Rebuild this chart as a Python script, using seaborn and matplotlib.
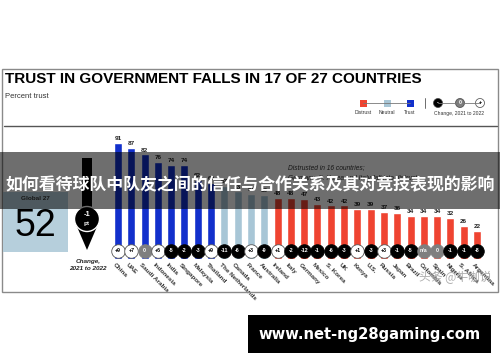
import numpy as np
import pandas as pd
import matplotlib
matplotlib.use("Agg")
import matplotlib.pyplot as plt
import seaborn as sns
from matplotlib.patches import Rectangle, Circle, Polygon
from matplotlib.lines import Line2D
from matplotlib.transforms import Affine2D

# Dados
countries = ["China", "UAE", "Saudi Arabia", "Indonesia", "India", "Singapore",
             "Malaysia", "Thailand", "The Netherlands", "Canada", "France",
             "Australia", "Ireland", "Italy", "Germany", "Mexico", "S. Korea",
             "UK", "Kenya", "U.S.", "Russia", "Japan", "Brazil", "Colombia",
             "Spain", "Nigeria", "S. Africa", "Argentina"]
trust = [91, 87, 82, 76, 74, 74, 62, 60, 57, 53, 51, 50, 48, 48, 47, 43, 42,
         42, 39, 39, 37, 36, 34, 34, 34, 32, 26, 22]
change = ["+9", "+7", "0", "+6", "-5", "-2", "-3", "+9", "-11", "-6", "+3", "-9",
          "+1", "-2", "-12", "-1", "-6", "-3", "+1", "-3", "+3", "-1", "-5",
          "n/a", "0", "-1", "-1", "-8"]
global_trust = 52
global_change = "-1"

title = "TRUST IN GOVERNMENT FALLS IN 17 OF 27 COUNTRIES"
banner = "如何看待球队中队友之间的信任与合作关系及其对竞技表现的影响"
site = "www.net-ng28gaming.com"

colors = {"Trust": "#1230cc", "Neutral": "#a8c6d6", "Distrust": "#ef4431"}

def level(v):
    if v >= 60:
        return "Trust"
    if v >= 50:
        return "Neutral"
    return "Distrust"

df = pd.DataFrame({"country": countries, "trust": trust, "change": change})
df["level"] = df["trust"].apply(level)

sns.set_style("white")
plt.rcParams["font.family"] = ["Liberation Sans", "Noto Sans CJK SC", "DejaVu Sans"]

W, H = 500, 362
fig = plt.figure(figsize=(5, 3.62), dpi=100)
px = Affine2D().scale(1 / W, -1 / H).translate(0, 1) + fig.transFigure

# Eixo das barras (pixels -> fração da figura)
ax = fig.add_axes([111.35 / W, 1 - 259 / H, 372.3 / W, 127.5 / H])
sns.barplot(data=df, x="country", y="trust", hue="level", order=countries,
            palette=colors, dodge=False, width=0.6, legend=False, ax=ax,
            saturation=1)
ax.set_xlim(-0.5, len(countries) - 0.5)
ax.set_ylim(0, 100)
ax.axis("off")

for i, v in enumerate(trust):
    ax.text(i, v + 1.5, str(v), ha="center", va="bottom", fontsize=4.6,
            fontweight="bold", color="#222222")

for i, c in enumerate(change):
    if c in ("0", "n/a"):
        fc, tc, ec = "#7f7f7f", "white", "#7f7f7f"
    elif c.startswith("-"):
        fc, tc, ec = "black", "white", "black"
    else:
        fc, tc, ec = "white", "black", "#555555"
    ax.scatter(i, 6.3, s=95, color=fc, edgecolor=ec, linewidth=0.6, zorder=5)
    ax.text(i, 6.3, c, ha="center", va="center", fontsize=3.8,
            fontweight="bold", color=tc, zorder=6)

for i, name in enumerate(countries):
    ax.text(i - 0.2, -2.5, name, rotation=-45, rotation_mode="anchor",
            ha="left", va="top", fontsize=4.6, fontweight="bold",
            color="#333333")

# Moldura e cabeçalho
fig.patches.append(Rectangle((2, 69), 496, 223, transform=px, fill=False,
                             edgecolor="#8a8a8a", linewidth=1))
fig.text(5, 79, title, transform=px, fontsize=11, fontweight="bold",
         va="center", ha="left", color="black")
fig.text(5, 96, "Percent trust", transform=px, fontsize=5.5, va="center",
         color="#333333")
fig.lines.append(Line2D([4, 497], [126, 126], transform=px, color="#555555",
                        linewidth=1))

# Legenda
fig.lines.append(Line2D([363, 410], [103, 103], transform=px, color="#777777",
                        linewidth=0.6))
for x, lab in zip([363, 387, 410], ["Distrust", "Neutral", "Trust"]):
    fig.patches.append(Rectangle((x - 3.5, 99.5), 7, 7, transform=px,
                                 facecolor=colors[lab], edgecolor="none"))
    fig.text(x, 113, lab, transform=px, fontsize=3.6, ha="center",
             va="center", color="#333333")
fig.lines.append(Line2D([425, 425], [98, 108], transform=px, color="#555555",
                        linewidth=0.6))
fig.lines.append(Line2D([438, 480], [103, 103], transform=px, color="#777777",
                        linewidth=0.6))
for x, fc, sym, tc in [(438, "black", "-", "white"), (460, "#7f7f7f", "0", "white"),
                       (480, "white", "+", "black")]:
    fig.patches.append(Circle((x, 103), 4.5, transform=px, facecolor=fc,
                              edgecolor="#444444", linewidth=0.5))
    fig.text(x, 103, sym, transform=px, fontsize=3.8, ha="center", va="center",
             color=tc, fontweight="bold")
fig.text(459, 113, "Change, 2021 to 2022", transform=px, fontsize=3.6,
         ha="center", va="center", color="#333333")

# Caixa Global 27 e seta
fig.patches.append(Rectangle((3, 192), 65, 60, transform=px,
                             facecolor="#b6cfdc", edgecolor="none"))
fig.text(35, 199, "Global 27", transform=px, fontsize=4.6, ha="center",
         va="center", fontweight="bold", color="#333333")
fig.text(35, 226, str(global_trust), transform=px, fontsize=27, ha="center",
         va="center", color="black")
fig.patches.append(Polygon([(82, 158), (92, 158), (92, 222), (99, 222),
                            (87, 250), (75, 222), (82, 222)], closed=True,
                           transform=px, facecolor="black", edgecolor="none"))
fig.patches.append(Circle((87, 219), 12.5, transform=px, facecolor="black",
                          edgecolor="white", linewidth=1))
fig.text(87, 215, global_change, transform=px, fontsize=5.5, ha="center",
         va="center", color="white", fontweight="bold")
fig.text(87, 224, "pt", transform=px, fontsize=4.6, ha="center", va="center",
         color="white", fontweight="bold")
fig.text(88, 262, "Change,", transform=px, fontsize=4.6, ha="center",
         va="center", fontweight="bold", fontstyle="italic", color="#222222")
fig.text(88, 269, "2021 to 2022", transform=px, fontsize=4.6, ha="center",
         va="center", fontweight="bold", fontstyle="italic", color="#222222")

fig.text(288, 168, "Distrusted in 16 countries;", transform=px, fontsize=4.8,
         fontstyle="italic", va="center", color="#333333")
fig.text(288, 178, "Germany, S. Korea and Italy fall into distrust",
         transform=px, fontsize=4.8, fontstyle="italic", va="center",
         color="#333333")

# Faixa escura com o título em chinês
banner_box = Rectangle((0, 152), 500, 57, transform=px, facecolor="black",
                       alpha=0.57, edgecolor="none", zorder=10)
fig.patches.append(banner_box)
fig.text(250, 185, banner, transform=px, fontsize=12.2, ha="center",
         va="center", color="white", fontweight="bold",
         family=["Noto Sans CJK SC", "DejaVu Sans"], zorder=11)

# Marca d'água
fig.text(455, 277, "头条 @牛咖说", transform=px, fontsize=8.5, ha="center",
         va="center", color="#9a9a9a", alpha=0.8,
         family=["Noto Sans CJK SC", "DejaVu Sans"], zorder=11)

# Caixa preta com o site
fig.patches.append(Rectangle((248, 315), 243, 38, transform=px,
                             facecolor="black", edgecolor="none"))
fig.text(369.5, 334, site, transform=px, fontsize=10.6, ha="center",
         va="center", color="white", fontweight="bold",
         family=["DejaVu Sans"])

fig.savefig("out.png", dpi=100)
